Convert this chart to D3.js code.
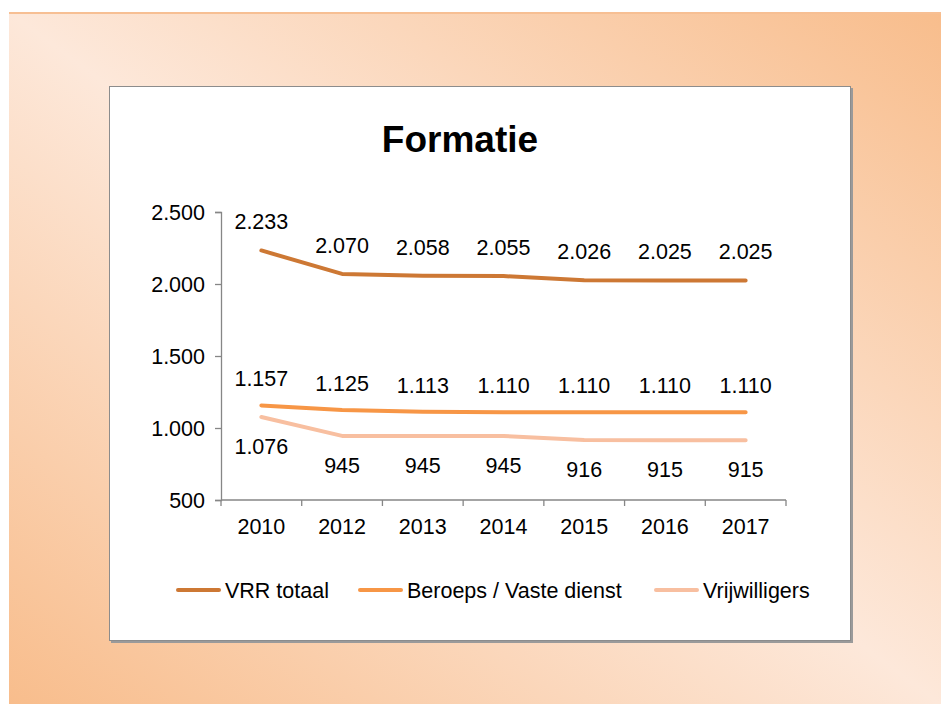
<!DOCTYPE html>
<html>
<head>
<meta charset="utf-8">
<script src="https://cdnjs.cloudflare.com/ajax/libs/d3/7.8.5/d3.min.js"></script>
<style>
  body { margin: 0; background: #fff; }
  svg { display: block; font-family: "Liberation Sans", Arial, sans-serif; }
</style>
</head>
<body>
<div id="chart"></div>
<script>
var years = ["2010", "2012", "2013", "2014", "2015", "2016", "2017"];
var vrrTotaal = [2233, 2070, 2058, 2055, 2026, 2025, 2025];
var beroeps = [1157, 1125, 1113, 1110, 1110, 1110, 1110];
var vrijwilligers = [1076, 945, 945, 945, 916, 915, 915];
var seriesNames = ["VRR totaal", "Beroeps / Vaste dienst", "Vrijwilligers"];
var yTicks = [500, 1000, 1500, 2000, 2500];

var width = 941, height = 704;
var fs = 21.5;
var svg = d3.select("#chart").append("svg")
    .attr("width", width)
    .attr("height", height);

// background gradient
var defs = svg.append("defs");
var grad = defs.append("linearGradient")
    .attr("id", "bg")
    .attr("x1", 0).attr("y1", 1)
    .attr("x2", 1).attr("y2", 0);
grad.append("stop").attr("offset", "0%").attr("stop-color", "#f8bd8c");
grad.append("stop").attr("offset", "50%").attr("stop-color", "#fde8da");
grad.append("stop").attr("offset", "100%").attr("stop-color", "#f8bd8c");

svg.append("rect")
    .attr("x", 9).attr("y", 12)
    .attr("width", width - 9).attr("height", height - 12)
    .attr("fill", "url(#bg)");
svg.append("line")
    .attr("x1", 9).attr("x2", width)
    .attr("y1", 13).attr("y2", 13)
    .attr("stroke", "#f7bf93").attr("stroke-width", 2);

// chart box with shadow
svg.append("rect")
    .attr("x", 111).attr("y", 88)
    .attr("width", 742).attr("height", 555)
    .attr("fill", "#9a9a9a");
svg.append("rect")
    .attr("x", 109.5).attr("y", 86.5)
    .attr("width", 741).attr("height", 554)
    .attr("fill", "#fff")
    .attr("stroke", "#8c8c8c")
    .attr("stroke-width", 1);

svg.append("text")
    .attr("x", 460).attr("y", 152)
    .attr("text-anchor", "middle")
    .attr("font-size", 37)
    .attr("font-weight", "bold")
    .attr("fill", "#000")
    .text("Formatie");

var plotLeft = 221, plotRight = 786, plotTop = 212, plotBottom = 500;

var x = d3.scaleBand().domain(years).range([plotLeft, plotRight]);
var y = d3.scaleLinear().domain([500, 2500]).range([plotBottom, plotTop]);

var fmt = function(v) { return d3.format(",")(v).replace(",", "."); };

// y axis
var yAxis = svg.append("g")
    .attr("transform", "translate(" + plotLeft + ",0)")
    .call(d3.axisLeft(y).tickValues(yTicks).tickSize(6).tickPadding(10).tickFormat(fmt));
yAxis.attr("font-family", null).attr("font-size", null);
yAxis.selectAll("text").attr("font-size", fs).attr("fill", "#000").attr("dy", "0.36em");
yAxis.selectAll("line, path").attr("stroke", "#868686").attr("stroke-width", 1.3);

// x axis with ticks between categories
var xg = svg.append("g").attr("transform", "translate(0," + plotBottom + ")");
xg.append("line")
    .attr("x1", plotLeft).attr("x2", plotRight)
    .attr("stroke", "#868686").attr("stroke-width", 1.3);
var bounds = years.map(function(d) { return x(d); }).concat([plotRight]);
xg.selectAll(".tk").data(bounds).enter().append("line")
    .attr("x1", function(d) { return d; }).attr("x2", function(d) { return d; })
    .attr("y1", 0).attr("y2", 6)
    .attr("stroke", "#868686").attr("stroke-width", 1.3);
xg.selectAll(".lbl").data(years).enter().append("text")
    .attr("x", function(d) { return x(d) + x.bandwidth() / 2; })
    .attr("y", 34)
    .attr("text-anchor", "middle")
    .attr("font-size", fs)
    .attr("fill", "#000")
    .text(function(d) { return d; });

var series = [
    {name: seriesNames[0], values: vrrTotaal, color: "#cd7834", dy: -21},
    {name: seriesNames[1], values: beroeps, color: "#f79646", dy: -19},
    {name: seriesNames[2], values: vrijwilligers, color: "#f8bfa0", dy: 37}
];

var line = d3.line()
    .x(function(d, i) { return x(years[i]) + x.bandwidth() / 2; })
    .y(function(d) { return y(d); });

// draw lighter series first
series.slice().reverse().forEach(function(s) {
    svg.append("path")
        .datum(s.values)
        .attr("d", line)
        .attr("fill", "none")
        .attr("stroke", s.color)
        .attr("stroke-width", 4)
        .attr("stroke-linecap", "round")
        .attr("stroke-linejoin", "round");
});

series.forEach(function(s) {
    svg.append("g").selectAll("text")
        .data(s.values).enter().append("text")
        .attr("x", function(d, i) { return x(years[i]) + x.bandwidth() / 2; })
        .attr("y", function(d) { return y(d) + s.dy; })
        .attr("text-anchor", "middle")
        .attr("font-size", fs)
        .attr("fill", "#000")
        .text(function(d) { return fmt(d); });
});

// legend
var legendX = [178, 360, 656];
var lg = svg.append("g");
series.forEach(function(s, i) {
    lg.append("line")
        .attr("x1", legendX[i]).attr("x2", legendX[i] + 41)
        .attr("y1", 590).attr("y2", 590)
        .attr("stroke", s.color).attr("stroke-width", 4)
        .attr("stroke-linecap", "round");
    lg.append("text")
        .attr("x", legendX[i] + 47).attr("y", 598)
        .attr("font-size", fs)
        .attr("fill", "#000")
        .text(s.name);
});
</script>
</body>
</html>
